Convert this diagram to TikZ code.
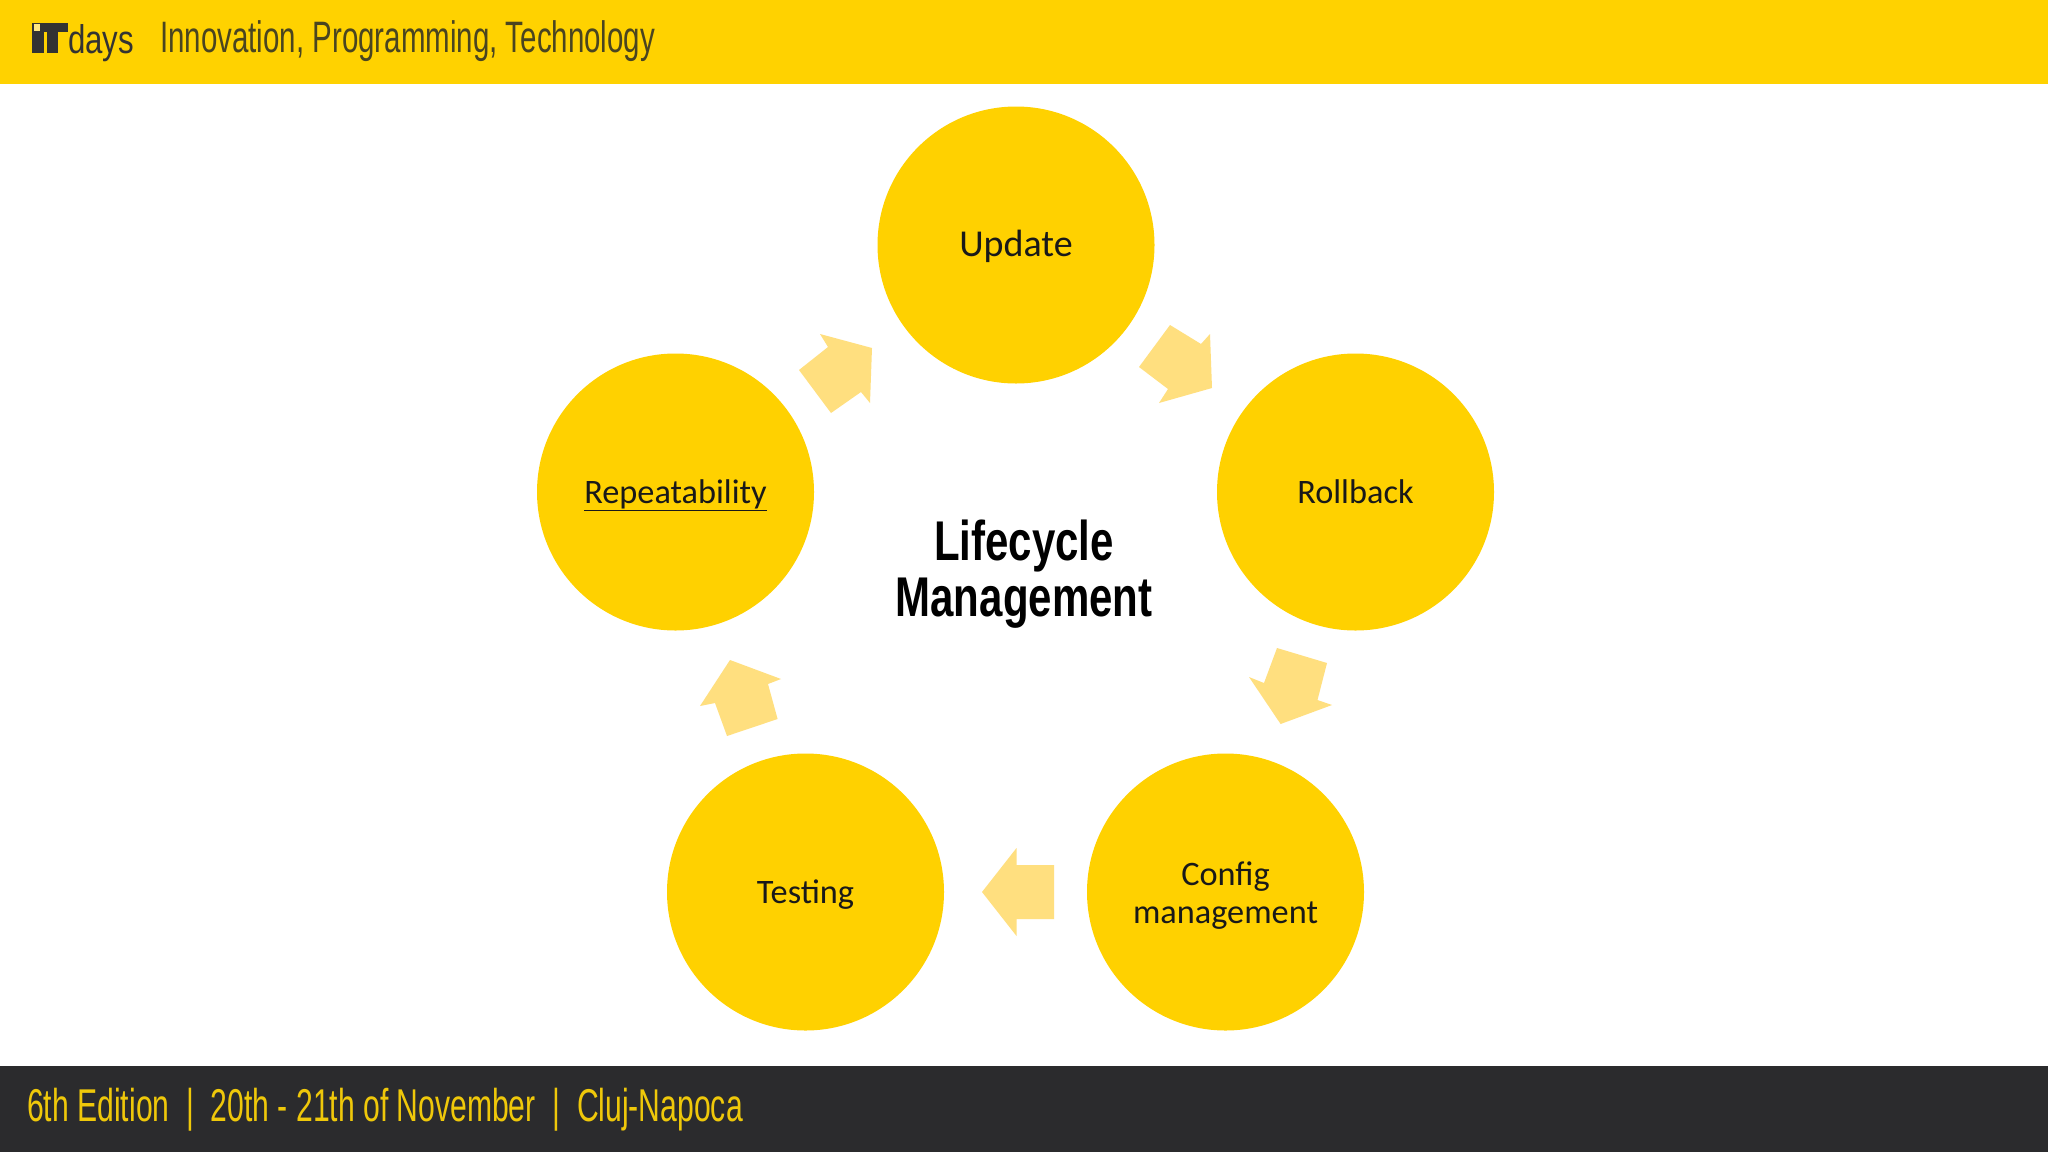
\documentclass[tikz,border=0pt]{standalone}
\usepackage{fontspec}
\setmainfont{Carlito}
\newfontfamily\headfont[FakeStretch=0.67]{Liberation Sans}
\newfontfamily\footfont[FakeStretch=0.655]{Liberation Sans}
\newfontfamily\titlefont[FakeStretch=0.75]{Liberation Sans Bold}
\newfontfamily\logofont[FakeStretch=0.78]{Liberation Sans}
\definecolor{brandyellow}{HTML}{FFD200}
\definecolor{stepyellow}{HTML}{FFD100}
\definecolor{arrowyellow}{HTML}{FFDF7F}
\definecolor{darkbar}{HTML}{2B2B2D}
\definecolor{logodark}{HTML}{333333}
\definecolor{logospot}{HTML}{FFE680}
\definecolor{headtext}{HTML}{4A4520}
\definecolor{foottext}{HTML}{EFC80A}
\newcommand{\steptext}{\rule[-11.4pt]{0pt}{46pt}}
\tikzset{
  stepcircle/.style={circle,fill=stepyellow,minimum size=277pt,inner sep=0pt,align=center,text=black!90,font=\fontsize{34.3}{38}\selectfont},
  blockarrow/.style={fill=arrowyellow,draw=none},
  bar/.style={fill=#1,draw=none},
  headlabel/.style={anchor=west,inner sep=0pt,text=headtext,font=\headfont\fontsize{44}{50}\selectfont},
  footlabel/.style={anchor=west,inner sep=0pt,text=foottext,font=\footfont\fontsize{46}{50}\selectfont},
  titlelabel/.style={align=center,inner sep=0pt,text=black,font=\titlefont\fontsize{56}{56}\selectfont}
}
\begin{document}
\begin{tikzpicture}[x=1pt,y=-1pt]
\useasboundingbox (0,0) rectangle (2048,1152);
\fill[white] (0,0) rectangle (2048,1152);
\fill[bar=brandyellow] (0,0) rectangle (2048,84);
\fill[bar=darkbar] (0,1066) rectangle (2048,1152);
% logo
\fill[logodark] (32,23) rectangle (44,53);
\fill[logodark] (40,23) rectangle (68,32);
\fill[logodark] (47,23) rectangle (58,53);
\fill[logospot] (33.5,24) rectangle (39.5,31);
\node[anchor=base west,inner sep=0pt,text=logodark,font=\logofont\fontsize{40}{40}\selectfont] (logotext) at (68,53) {days};
\node[headlabel] (head) at (160,41) {Innovation, Programming, Technology};
\node[footlabel] (foot) at (27,1110) {6th Edition\ \ |\ \ 20th - 21th of November\ \ |\ \ Cluj-Napoca};
% arrows
\fill[blockarrow] (1170,325) -- (1201,344) -- (1210,334) -- (1212,388) -- (1159,403) -- (1168,389) -- (1139,367) -- cycle;
\fill[blockarrow] (1277,648) -- (1327,663) -- (1317.5,700) -- (1332,705) -- (1280.6,724) -- (1249,677) -- (1264,683) -- cycle;
\fill[blockarrow] (1054,865) -- (1016.5,865) -- (1016.5,848) -- (982,892) -- (1016.5,936) -- (1016.5,919) -- (1054,919) -- cycle;
\fill[blockarrow] (727,736) -- (715,703) -- (700,706) -- (730,660) -- (781,679) -- (768,684) -- (777.6,719) -- cycle;
\fill[blockarrow] (799,370) -- (828,347) -- (820,334) -- (872,348) -- (870,403) -- (861,392) -- (831,413) -- cycle;
% steps
\node[stepcircle] (update) at (1016,245) {\fontsize{38}{42}\selectfont\steptext Update};
\node[stepcircle] (rollback) at (1355.5,492) {\steptext Rollback};
\node[stepcircle] (config) at (1225.5,892) {\rule{0pt}{30pt}Config\\management};
\node[stepcircle] (testing) at (805.5,892) {\steptext Testing};
\node[stepcircle] (repeat) at (675.5,492) {\steptext\underline{Repeatability}};
\node[titlelabel] (title) at (1024,574) {Lifecycle\\Management};
\end{tikzpicture}
\end{document}
